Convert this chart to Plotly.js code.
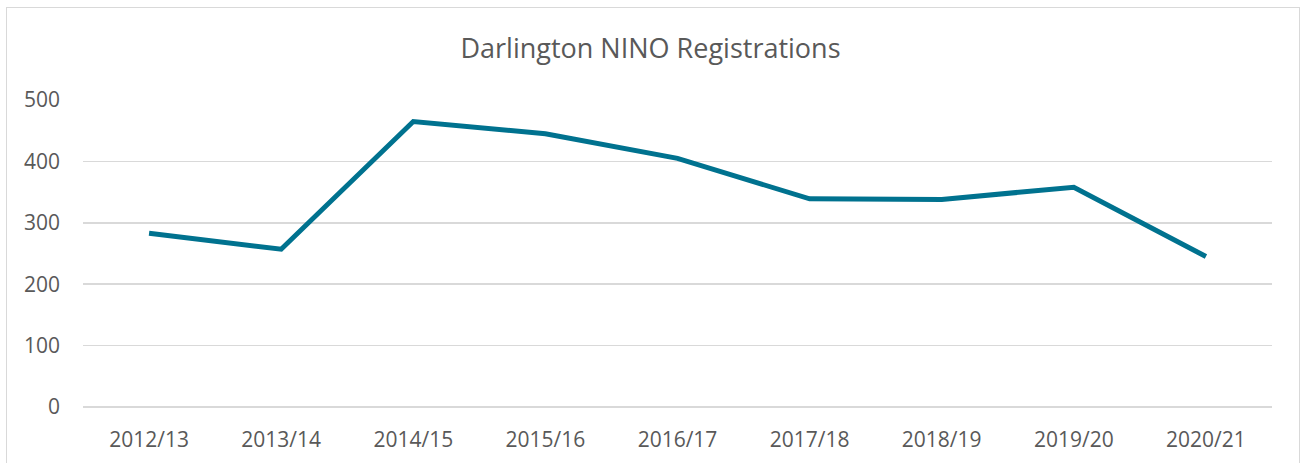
<!DOCTYPE html>
<html>
<head>
<meta charset="utf-8">
<script src="https://cdn.plot.ly/plotly-3.0.1.min.js"></script>
<style>
  html, body { margin: 0; padding: 0; background: #fff; }
  #wrap { position: relative; width: 1301px; height: 463px; overflow: hidden; }
  #chart { position: absolute; left: 0; top: 0; width: 1301px; height: 463px; }
  #frame { position: absolute; left: 6px; top: 7px; width: 1292px; height: 470px; border: 1.5px solid #d9d9d9; pointer-events: none; }
</style>
</head>
<body>
<div id="wrap">
  <div id="chart"></div>
  <div id="frame"></div>
</div>
<script>
const categories = ["2012/13", "2013/14", "2014/15", "2015/16", "2016/17", "2017/18", "2018/19", "2019/20", "2020/21"];
const registrations = [283, 257, 465, 445, 405, 339, 338, 358, 245];
const yTicks = [0, 100, 200, 300, 400, 500];

const trace = {
  x: categories,
  y: registrations,
  type: "scatter",
  mode: "lines",
  line: { color: "#00728F", width: 5 },
  hoverinfo: "skip"
};

const layout = {
  width: 1301,
  height: 463,
  margin: { l: 83, r: 29, t: 100, b: 56 },
  paper_bgcolor: "rgba(0,0,0,0)",
  plot_bgcolor: "#ffffff",
  showlegend: false,
  font: { family: "Open Sans, sans-serif", color: "#595959" },
  title: {
    text: "Darlington NINO Registrations",
    font: { size: 27, color: "#595959", family: "Open Sans, sans-serif" },
    x: 0.5, xanchor: "center",
    y: 1 - 49 / 463, yanchor: "middle", yref: "container"
  },
  xaxis: {
    type: "category",
    range: [-0.5, categories.length - 0.5],
    showgrid: false,
    zeroline: false,
    showline: false,
    ticks: "",
    ticklabelstandoff: 18,
    tickfont: { size: 21, color: "#595959" },
    fixedrange: true
  },
  yaxis: {
    range: [0, 500],
    tickvals: yTicks,
    ticktext: yTicks.map(String),
    showgrid: true,
    gridcolor: "#d9d9d9",
    gridwidth: 1.6,
    zeroline: true,
    zerolinecolor: "#d9d9d9",
    zerolinewidth: 1.6,
    showline: false,
    ticks: "",
    ticklabelstandoff: 22,
    tickfont: { size: 21, color: "#595959" },
    fixedrange: true
  }
};

Plotly.newPlot("chart", [trace], layout, { displayModeBar: false, staticPlot: true });
</script>
</body>
</html>
